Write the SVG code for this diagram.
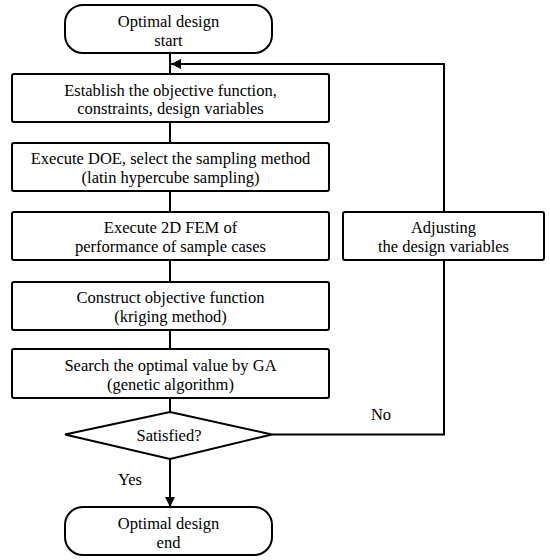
<svg xmlns="http://www.w3.org/2000/svg" width="550" height="560" viewBox="0 0 550 560">
<style>
.n{fill:#fff;stroke:#000;stroke-width:2}
.t{font-family:'Liberation Serif','Times New Roman','DejaVu Serif',serif;font-size:16.5px;fill:#000;text-anchor:middle}
.c{fill:none;stroke:#000;stroke-width:2}
</style>
<defs>
<marker id="ah" viewBox="0 0 10 10" refX="10" refY="5" markerWidth="5" markerHeight="5" orient="auto" markerUnits="strokeWidth">
<path d="M0,0 L10,5 L0,10 z" fill="#000"/>
</marker>
</defs>
<rect width="550" height="560" fill="#fff"/>
<g font-family="Liberation Serif, Times New Roman, serif">
<g id="connectors">
<line class="c" x1="170" y1="53" x2="170" y2="74"/>
<line class="c" x1="170" y1="122" x2="170" y2="143"/>
<line class="c" x1="170" y1="191" x2="170" y2="212"/>
<line class="c" x1="170" y1="260" x2="170" y2="282"/>
<line class="c" x1="170" y1="330" x2="170" y2="349"/>
<line class="c" x1="170" y1="398" x2="170" y2="412"/>
<line class="c" x1="170" y1="459" x2="170" y2="507" marker-end="url(#ah)"/>
<polyline class="c" points="272,434.5 444,434.5 444,260"/>
<polyline class="c" points="444,212 444,64 171,64" marker-end="url(#ah)"/>
<text class="t" x="381" y="420">No</text>
<text class="t" x="130" y="485">Yes</text>
</g>
<g id="start">
<rect class="n" x="65" y="5" width="207" height="48" rx="18"/>
<text class="t" x="168.5" y="27">Optimal design</text>
<text class="t" x="168.5" y="46">start</text>
</g>
<g id="establish">
<rect class="n" x="12" y="74" width="317" height="48" rx="2"/>
<text class="t" x="170.5" y="96">Establish the objective function,</text>
<text class="t" x="170.5" y="114">constraints, design variables</text>
</g>
<g id="doe">
<rect class="n" x="12" y="143" width="317" height="48" rx="2"/>
<text class="t" x="170.5" y="164">Execute DOE, select the sampling method</text>
<text class="t" x="170.5" y="183">(latin hypercube sampling)</text>
</g>
<g id="fem">
<rect class="n" x="12" y="212" width="317" height="48" rx="2"/>
<text class="t" x="170.5" y="233">Execute 2D FEM of</text>
<text class="t" x="170.5" y="252">performance of sample cases</text>
</g>
<g id="kriging">
<rect class="n" x="12" y="282" width="317" height="48" rx="2"/>
<text class="t" x="170.5" y="303">Construct objective function</text>
<text class="t" x="170.5" y="322">(kriging method)</text>
</g>
<g id="ga">
<rect class="n" x="12" y="349" width="317" height="49" rx="2"/>
<text class="t" x="170.5" y="371">Search the optimal value by GA</text>
<text class="t" x="170.5" y="390">(genetic algorithm)</text>
</g>
<g id="adjust">
<rect class="n" x="343" y="212" width="201" height="48" rx="2"/>
<text class="t" x="443.5" y="233">Adjusting</text>
<text class="t" x="443.5" y="252">the design variables</text>
</g>
<g id="satisfied">
<polygon class="n" points="170,412 272,434.5 170,459 65,434.5"/>
<text class="t" x="169" y="441">Satisfied?</text>
</g>
<g id="end">
<rect class="n" x="65" y="507" width="207" height="48" rx="18"/>
<text class="t" x="168.5" y="529">Optimal design</text>
<text class="t" x="168.5" y="548">end</text>
</g>
</g>
</svg>
